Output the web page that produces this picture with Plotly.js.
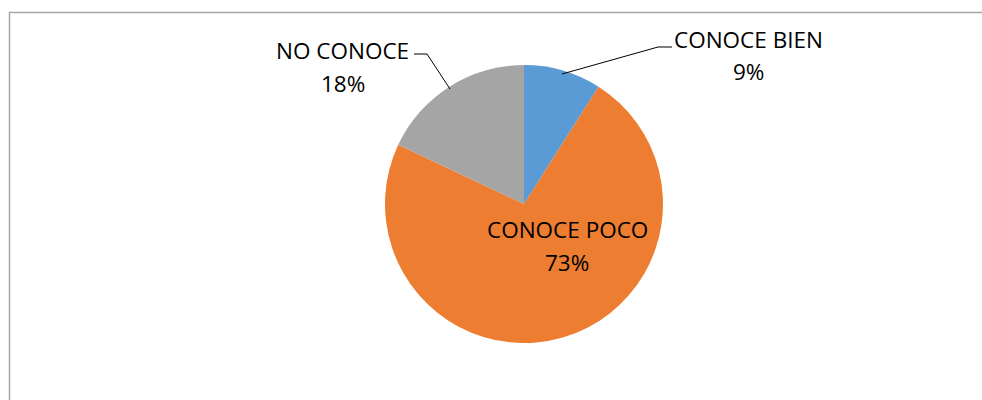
<!DOCTYPE html>
<html>
<head>
<meta charset="utf-8">
<script src="https://cdn.plot.ly/plotly-3.0.1.min.js"></script>
<style>html,body{margin:0;padding:0;background:#fff;}#chart{width:982px;height:400px;}</style>
</head>
<body>
<div id="chart"></div>
<script>
const categories = ["CONOCE BIEN", "CONOCE POCO", "NO CONOCE"];
const values = [9, 73, 18];
const colors = ["#5B9BD5", "#ED7D31", "#A5A5A5"];
// label anchor positions in pixels (name line, percent line)
const labelPos = [[748, 40, 748, 72], [567, 230, 567, 262], [342, 51, 343, 83]];

const W = 982, H = 400;
const px = x => x / W;
const py = y => 1 - y / H;

const total = values.reduce((a, b) => a + b, 0);
const annotations = [];
const labelFont = {family: "Open Sans", size: 22.5, color: "#000"};
categories.forEach((c, i) => {
  const p = labelPos[i];
  const pct = Math.round(values[i] / total * 100) + "%";
  annotations.push({xref: "paper", yref: "paper", x: px(p[0]), y: py(p[1]), text: c, showarrow: false,
    xanchor: "center", yanchor: "middle", font: labelFont});
  annotations.push({xref: "paper", yref: "paper", x: px(p[2]), y: py(p[3]), text: pct, showarrow: false,
    xanchor: "center", yanchor: "middle", font: labelFont});
});

const path = pts => "M " + pts.map(p => px(p[0]) + "," + py(p[1])).join(" L ");

const shapes = [
  {type: "rect", xref: "paper", yref: "paper", x0: px(9.5), x1: px(1100), y0: py(500), y1: py(12.5),
   line: {color: "#A6A6A6", width: 1.5}, fillcolor: "rgba(0,0,0,0)", layer: "below"},
  {type: "path", xref: "paper", yref: "paper", path: path([[672, 47], [658, 47], [562, 74]]),
   line: {color: "#000", width: 1}},
  {type: "path", xref: "paper", yref: "paper", path: path([[414, 54], [427, 54], [450, 89]]),
   line: {color: "#000", width: 1}}
];

const trace = {
  type: "pie",
  labels: categories,
  values: values,
  sort: false,
  direction: "clockwise",
  rotation: 0,
  marker: {colors: colors, line: {width: 0}},
  textinfo: "none",
  hoverinfo: "label+percent",
  showlegend: false,
  domain: {x: [px(524 - 139), px(524 + 139)], y: [(196 - 139) / H, (196 + 139) / H]}
};

Plotly.newPlot("chart", [trace], {
  width: W, height: H,
  margin: {l: 0, r: 0, t: 0, b: 0},
  paper_bgcolor: "#fff",
  showlegend: false,
  annotations: annotations,
  shapes: shapes
}, {displayModeBar: false, staticPlot: true});
</script>
</body>
</html>
